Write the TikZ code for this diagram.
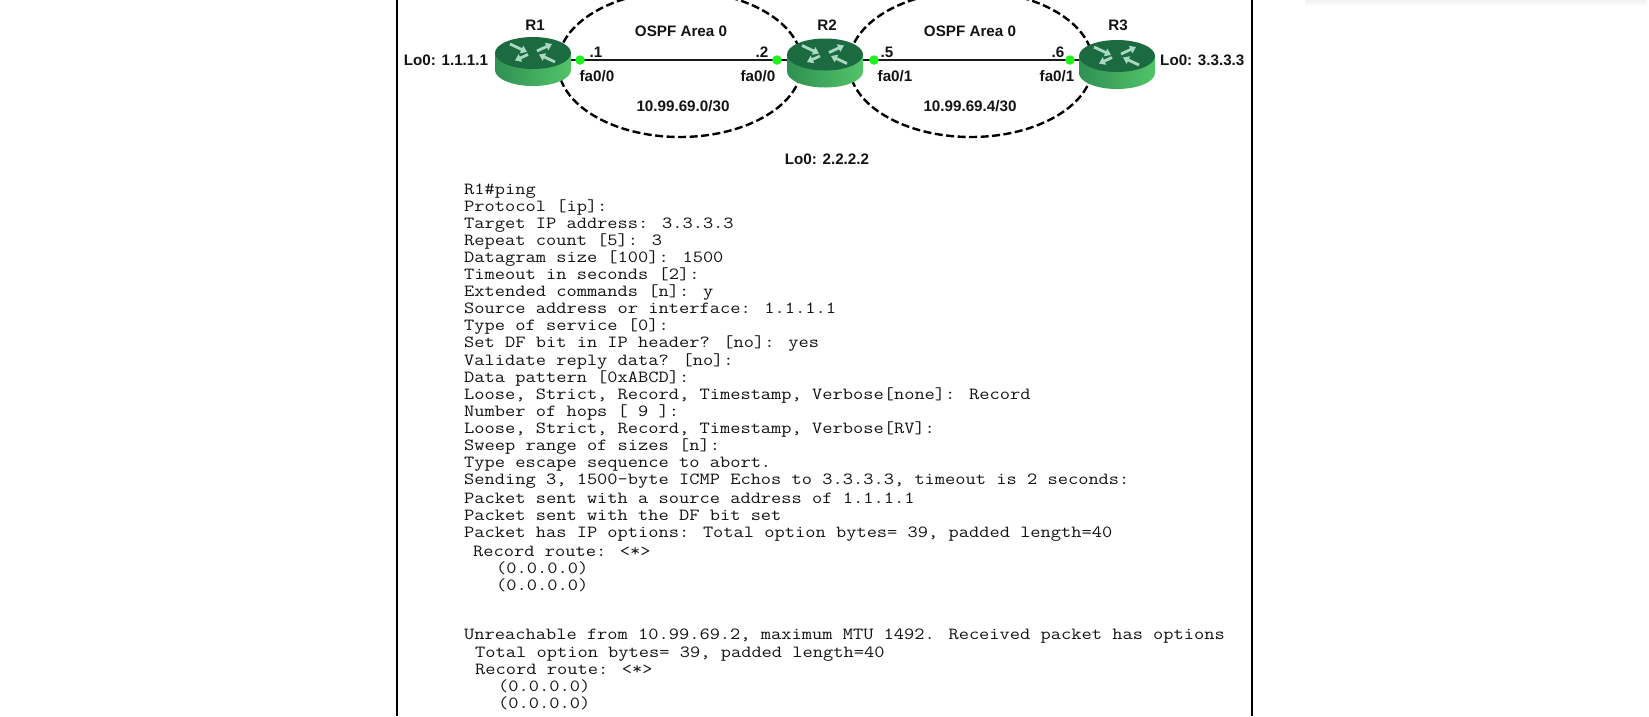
\documentclass[tikz,border=0pt]{standalone}
\usepackage{fontspec}
\setmainfont{Liberation Sans}
\newfontfamily\termfont[FakeStretch=1.169]{Latin Modern Mono}
\usetikzlibrary{arrows.meta}
\definecolor{rtop}{HTML}{1C6A3F}
\definecolor{rleft}{HTML}{2F9053}
\definecolor{rmid}{HTML}{258049}
\definecolor{rright}{HTML}{52C468}
\definecolor{rarrow}{HTML}{A9D9C2}
\definecolor{dotgreen}{HTML}{1FF01F}
\tikzset{
  x=1pt,y=-1pt,
  lbl/.style={font=\fontsize{15.2}{15.2}\selectfont\bfseries,text=black!92,inner sep=0pt},
  termline/.style={font=\fontsize{17}{17}\termfont,text=black!92,anchor=base west,inner sep=0pt},
  area/.style={draw=black,dashed,dash pattern=on 8pt off 3.5pt,line width=2.4pt},
  link/.style={draw=black!90,line width=2.6pt},
  iface/.style={circle,fill=dotgreen,inner sep=0pt,minimum size=9.5pt},
  frameline/.style={draw=black,line width=2.6pt},
  rarr/.style={draw=rarrow,line width=2.8pt,-{Triangle[length=6pt,width=8pt]}},
  rhit/.style={inner sep=0pt,minimum width=76pt,minimum height=48pt}
}
\newcommand{\routericon}[3]{% name, cx, cy of top ellipse
  \begin{scope}[shift={(#2,#3)}]
    \shade[left color=rleft,middle color=rmid,right color=rright]
      (-38,0) -- (-38,17) .. controls (-38,25.8) and (-21,33) .. (0,33)
      .. controls (21,33) and (38,25.8) .. (38,17) -- (38,0) -- cycle;
    \fill[rtop] (-38,0) .. controls (-38,-8.8) and (-21,-16) .. (0,-16)
      .. controls (21,-16) and (38,-8.8) .. (38,0)
      .. controls (38,8.8) and (21,16) .. (0,16)
      .. controls (-21,16) and (-38,8.8) .. (-38,0) -- cycle;
    \draw[rarr] (-23,-9) -- (-6,-1);
    \draw[rarr] (22,9) -- (6,1.5);
    \draw[rarr] (4,-2) -- (19,-9);
    \draw[rarr] (-5,1.5) -- (-18,7.5);
  \end{scope}
}
\begin{document}
\begin{tikzpicture}
\useasboundingbox (0,0) rectangle (1649,716);
\clip (0,0) rectangle (1649,716);
\fill[white] (0,0) rectangle (1649,716);
\shade[top color=black!5,bottom color=white] (1305,0) rectangle (1647,6);
% frame
\coordinate (fl0) at (397,0); \coordinate (fl1) at (397,716);
\coordinate (fr0) at (1252,0); \coordinate (fr1) at (1252,716);
\draw[frameline] (fl0) -- (fl1);
\draw[frameline] (fr0) -- (fr1);
% areas
\draw[area] (680,64) ellipse [x radius=122,y radius=73];
\draw[area] (971,64) ellipse [x radius=122,y radius=73];
% routers, named
\node[rhit] (r1) at (533,60) {};
\node[rhit] (r2) at (825,60) {};
\node[rhit] (r3) at (1117,60) {};
\draw[link] (r1.center) -- (r2.center);
\draw[link] (r2.center) -- (r3.center);
\routericon{r1}{533}{53}
\routericon{r2}{825}{54.5}
\routericon{r3}{1117}{56}
% interface dots
\node[iface] (d1) at (580,60) {};
\node[iface] (d2) at (777,60) {};
\node[iface] (d3) at (874,60) {};
\node[iface] (d4) at (1070,60) {};
% labels
\node[lbl] (n1) at (535,25) {R1};
\node[lbl] (n2) at (827,25) {R2};
\node[lbl] (n3) at (1118,25) {R3};
\node[lbl] (a1) at (681,31) {OSPF Area 0};
\node[lbl] (a2) at (970,31) {OSPF Area 0};
\node[lbl] (s1) at (683,106) {10.99.69.0/30};
\node[lbl] (s2) at (970,106) {10.99.69.4/30};
\node[lbl] (l1) at (446,60) {Lo0: 1.1.1.1};
\node[lbl] (l2) at (827,159) {Lo0: 2.2.2.2};
\node[lbl,anchor=west] (l3) at (1160,60) {Lo0: 3.3.3.3};
\node[lbl] (i1) at (596,52) {.1};
\node[lbl] (i2) at (762,52) {.2};
\node[lbl] (i3) at (887,52) {.5};
\node[lbl] (i4) at (1058,52) {.6};
\node[lbl] (f1) at (597,76) {fa0/0};
\node[lbl] (f2) at (758,76) {fa0/0};
\node[lbl] (f3) at (895,76) {fa0/1};
\node[lbl] (f4) at (1057,76) {fa0/1};
% terminal text
\node[termline] (t1) at (464,194) {R1\#ping};
\node[termline] (t2) at (464,211) {Protocol [ip]:};
\node[termline] (t3) at (464,228) {Target IP address: 3.3.3.3};
\node[termline] (t4) at (464,245) {Repeat count [5]: 3};
\node[termline] (t5) at (464,262) {Datagram size [100]: 1500};
\node[termline] (t6) at (464,279.5) {Timeout in seconds [2]:};
\node[termline] (t7) at (464,296.5) {Extended commands [n]: y};
\node[termline] (t8) at (464,313.5) {Source address or interface: 1.1.1.1};
\node[termline] (t9) at (464,330.5) {Type of service [0]:};
\node[termline] (t10) at (464,347.5) {Set DF bit in IP header? [no]: yes};
\node[termline] (t11) at (464,365) {Validate reply data? [no]:};
\node[termline] (t12) at (464,382) {Data pattern [0xABCD]:};
\node[termline] (t13) at (464,399) {Loose, Strict, Record, Timestamp, Verbose[none]: Record};
\node[termline] (t14) at (464,416) {Number of hops [ 9 ]:};
\node[termline] (t15) at (464,433.5) {Loose, Strict, Record, Timestamp, Verbose[RV]:};
\node[termline] (t16) at (464,450.5) {Sweep range of sizes [n]:};
\node[termline] (t17) at (464,467.5) {Type escape sequence to abort.};
\node[termline] (t18) at (464,484.5) {Sending 3, 1500-byte ICMP Echos to 3.3.3.3, timeout is 2 seconds:};
\node[termline] (t19) at (464,503) {Packet sent with a source address of 1.1.1.1};
\node[termline] (t20) at (464,520) {Packet sent with the DF bit set};
\node[termline] (t21) at (464,537) {Packet has IP options: Total option bytes= 39, padded length=40};
\node[termline] (t22) at (473,556.5) {Record route: <*>};
\node[termline] (t23) at (496,573.5) {(0.0.0.0)};
\node[termline] (t24) at (496,590.5) {(0.0.0.0)};
\node[termline] (t25) at (464,639.5) {Unreachable from 10.99.69.2, maximum MTU 1492. Received packet has options};
\node[termline] (t26) at (475,657) {Total option bytes= 39, padded length=40};
\node[termline] (t27) at (475,674) {Record route: <*>};
\node[termline] (t28) at (498,691) {(0.0.0.0)};
\node[termline] (t29) at (498,708) {(0.0.0.0)};
\end{tikzpicture}
\end{document}
